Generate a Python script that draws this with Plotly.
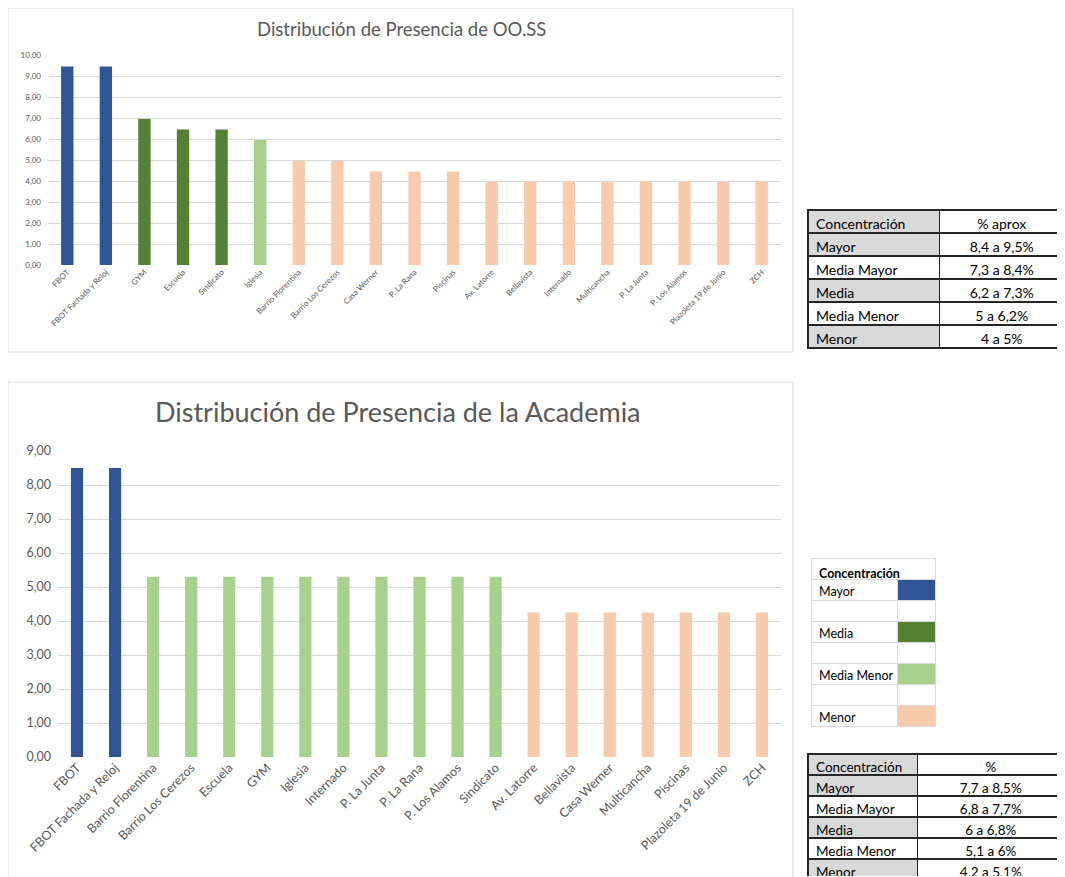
import plotly.graph_objects as go

# ---------------- DATA ----------------
categorias_oss = ["FBOT", "FBOT Fachada y Reloj", "GYM", "Escuela", "Sindicato", "Iglesia",
                  "Barrio Florentina", "Barrio Los Cerezos", "Casa Werner", "P. La Rana", "Piscinas",
                  "Av. Latorre", "Bellavista", "Internado", "Multicancha", "P. La Junta",
                  "P. Los Alamos", "Plazoleta 19 de Junio", "ZCH"]
valores_oss = [9.45, 9.45, 6.95, 6.45, 6.45, 5.95, 4.95, 4.95, 4.45, 4.45, 4.45,
               3.97, 3.97, 3.97, 3.97, 3.97, 3.97, 3.97, 3.97]
nivel_oss = ["Mayor", "Mayor", "Media", "Media", "Media", "Media Menor",
             "Menor", "Menor", "Menor", "Menor", "Menor", "Menor", "Menor", "Menor",
             "Menor", "Menor", "Menor", "Menor", "Menor"]

categorias_acad = ["FBOT", "FBOT Fachada y Reloj", "Barrio Florentina", "Barrio Los Cerezos", "Escuela",
                   "GYM", "Iglesia", "Internado", "P. La Junta", "P. La Rana", "P. Los Alamos",
                   "Sindicato", "Av. Latorre", "Bellavista", "Casa Werner", "Multicancha",
                   "Piscinas", "Plazoleta 19 de Junio", "ZCH"]
valores_acad = [8.5, 8.5, 5.3, 5.3, 5.3, 5.3, 5.3, 5.3, 5.3, 5.3, 5.3, 5.3,
                4.25, 4.25, 4.25, 4.25, 4.25, 4.25, 4.25]
nivel_acad = ["Mayor", "Mayor"] + ["Media Menor"] * 10 + ["Menor"] * 7

niveles = ["Mayor", "Media Mayor", "Media", "Media Menor", "Menor"]
rangos_oss = ["8,4 a 9,5%", "7,3 a 8,4%", "6,2 a 7,3%", "5 a 6,2%", "4 a 5%"]
rangos_acad = ["7,7 a 8,5%", "6,8 a 7,7%", "6 a 6,8%", "5,1 a 6%", "4,2 a 5,1%"]

leyenda_titulo = "Concentración"
leyenda_niveles = ["Mayor", "", "Media", "", "Media Menor", "", "Menor"]

# ---------------- STYLE ----------------
color_nivel = {"Mayor": "#2F5597", "Media Mayor": "#2F5597", "Media": "#548235",
               "Media Menor": "#A9D18E", "Menor": "#F8CBAD"}
GRAY_TXT = "#595959"
GRID = "#D9D9D9"
FONT = "Lato"
OFF = 8                       # page body margin of the html file
W, H = 1065 - OFF, 877 - OFF  # figure size that fits in the window


def px(x):
    return min(max((x - OFF) / W, 0), 1)


def py(y):
    return min(max(1 - (y - OFF) / H, 0), 1)


def nb(s):
    return s.replace(" ", "\u00a0")


fig = go.Figure()

fig.add_trace(go.Bar(x=categorias_oss, y=valores_oss, width=0.32,
                     marker=dict(color=[color_nivel[n] for n in nivel_oss], line=dict(width=0)),
                     xaxis="x", yaxis="y", showlegend=False))
fig.add_trace(go.Bar(x=categorias_acad, y=valores_acad, width=0.32,
                     marker=dict(color=[color_nivel[n] for n in nivel_acad], line=dict(width=0)),
                     xaxis="x2", yaxis="y2", showlegend=False))

gris_alterno = ["#D9D9D9", "white", "#D9D9D9", "white", "#D9D9D9"]

# Table OO.SS
fig.add_trace(go.Table(
    domain=dict(x=[px(808), px(1065)], y=[py(352), py(210)]),
    columnwidth=[132, 125],
    header=dict(values=["Concentración", "% aprox"], height=23,
                fill=dict(color=["#D9D9D9", "white"]),
                line=dict(color="#262626", width=1.5),
                align=["left", "center"],
                font=dict(family=FONT, size=14, color="black")),
    cells=dict(values=[[nb(n) for n in niveles], rangos_oss], height=23,
               fill=dict(color=[gris_alterno, ["white"] * 5]),
               line=dict(color="#262626", width=1.5),
               align=["left", "center"],
               font=dict(family=FONT, size=14, color="black"))))

# Legend table: title row (single cell)
fig.add_trace(go.Table(
    domain=dict(x=[px(811), px(935)], y=[py(580), py(558)]),
    columnwidth=[124],
    header=dict(values=["<b>" + leyenda_titulo + "</b>"], height=21,
                fill=dict(color="white"),
                line=dict(color=GRID, width=1),
                align="left",
                font=dict(family=FONT, size=12.5, color="black")),
    cells=dict(values=[[]], height=0)))

# Legend table: level rows with colour swatches
swatch = [color_nivel[n] if n else "white" for n in leyenda_niveles]
fig.add_trace(go.Table(
    domain=dict(x=[px(811), px(935)], y=[py(730), py(579)]),
    columnwidth=[86, 38],
    header=dict(values=[nb(leyenda_niveles[0]), ""], height=21,
                fill=dict(color=["white", swatch[0]]),
                line=dict(color=GRID, width=1),
                align="left",
                font=dict(family=FONT, size=12.5, color="black")),
    cells=dict(values=[[nb(n) for n in leyenda_niveles[1:]], [""] * (len(leyenda_niveles) - 1)],
               height=21,
               fill=dict(color=[["white"] * (len(leyenda_niveles) - 1), swatch[1:]]),
               line=dict(color=GRID, width=1),
               align="left",
               font=dict(family=FONT, size=12.5, color="black"))))

# Table Academia
fig.add_trace(go.Table(
    domain=dict(x=[px(808), px(1065)], y=[py(877), py(754)]),
    columnwidth=[110, 147],
    header=dict(values=["Concentración", "%"], height=21,
                fill=dict(color=["#D9D9D9", "white"]),
                line=dict(color="#262626", width=1.5),
                align=["left", "center"],
                font=dict(family=FONT, size=13.5, color="black")),
    cells=dict(values=[[nb(n) for n in niveles], rangos_acad], height=21,
               fill=dict(color=[gris_alterno, ["white"] * 5]),
               line=dict(color="#262626", width=1.5),
               align=["left", "center"],
               font=dict(family=FONT, size=13.5, color="black"))))

fig.update_layout(
    width=W, height=H, margin=dict(l=0, r=0, t=0, b=0, pad=0),
    paper_bgcolor="white", plot_bgcolor="white",
    separators=",.",
    font=dict(family=FONT, color=GRAY_TXT),
    xaxis=dict(domain=[px(48), px(781)], anchor="y", type="category", automargin=False,
               range=[-0.5, 18.5], tickangle=-45, showgrid=False, showline=False,
               tickfont=dict(size=8, color=GRAY_TXT), ticks=""),
    yaxis=dict(domain=[py(265), py(55)], anchor="x", range=[0, 10], dtick=1, automargin=False,
               tickformat=".2f", gridcolor=GRID, showline=False, zeroline=False,
               tickfont=dict(size=8, color=GRAY_TXT), ticklabelstandoff=6),
    xaxis2=dict(domain=[px(58), px(781)], anchor="y2", type="category", automargin=False,
                range=[-0.5, 18.5], tickangle=-45, showgrid=False, showline=False,
                tickfont=dict(size=12.5, color=GRAY_TXT), ticks=""),
    yaxis2=dict(domain=[py(757), py(451)], anchor="x2", range=[0, 9], dtick=1, automargin=False,
                tickformat=".2f", gridcolor=GRID, showline=False, zeroline=False,
                tickfont=dict(size=12.5, color=GRAY_TXT), ticklabelstandoff=6),
    shapes=[
        dict(type="rect", xref="paper", yref="paper", x0=px(8), x1=px(793), y0=py(352), y1=py(8),
             line=dict(color=GRID, width=1), fillcolor="rgba(0,0,0,0)", layer="below"),
        dict(type="rect", xref="paper", yref="paper", x0=px(8), x1=px(793), y0=-0.01, y1=py(382),
             line=dict(color=GRID, width=1), fillcolor="rgba(0,0,0,0)", layer="below"),
    ],
    annotations=[
        dict(text="Distribución de Presencia de OO.SS", xref="paper", yref="paper",
             x=px(401), y=py(29), showarrow=False, xanchor="center", yanchor="middle",
             font=dict(family=FONT, size=18.5, color=GRAY_TXT)),
        dict(text="Distribución de Presencia de la Academia", xref="paper", yref="paper",
             x=px(398), y=py(411), showarrow=False, xanchor="center", yanchor="middle",
             font=dict(family=FONT, size=27, color=GRAY_TXT)),
    ],
)

fig.write_html("out.html")
